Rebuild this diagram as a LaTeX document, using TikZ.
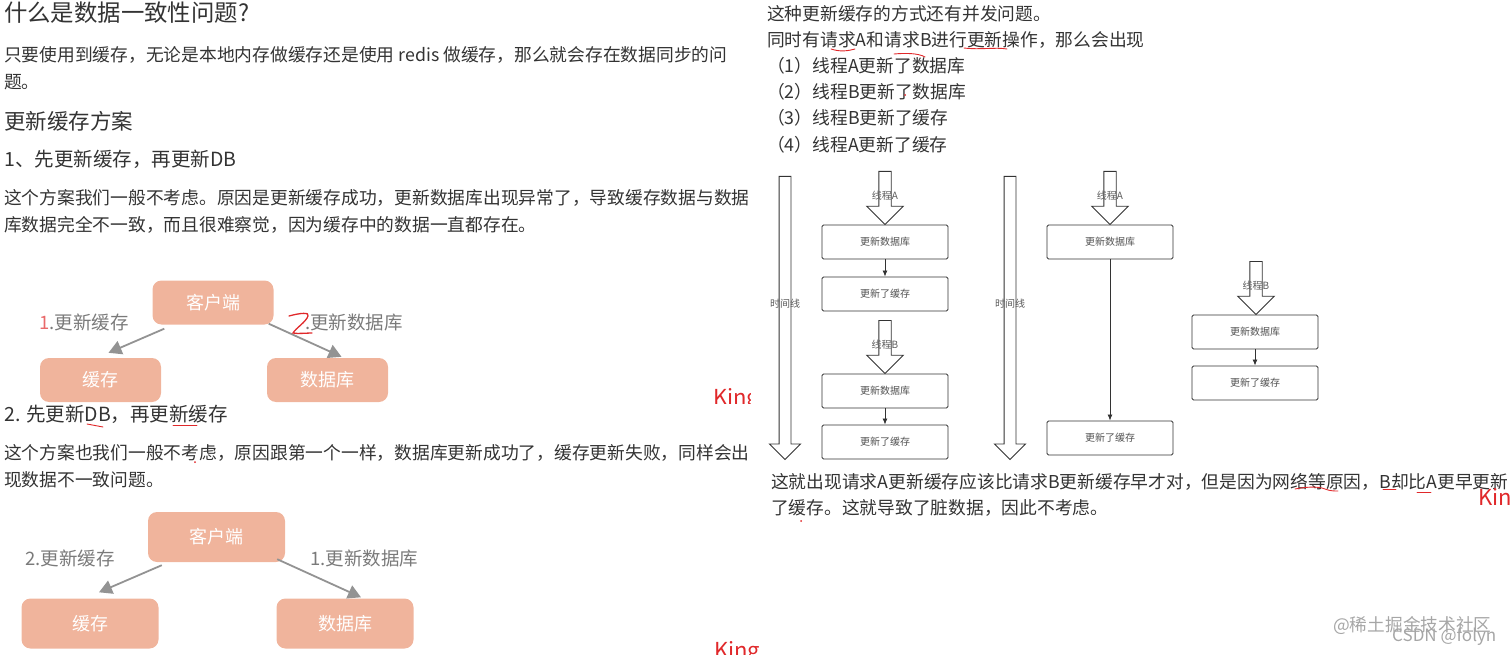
\documentclass[tikz,border=0pt]{standalone}
\usepackage{fontspec}
\setmainfont{Noto Sans CJK SC}
\usepackage{xcolor}
\usetikzlibrary{arrows.meta,calc,shapes.arrows}
\definecolor{salmon}{HTML}{F0B49C}
\definecolor{ink}{HTML}{333333}
\definecolor{handgray}{HTML}{7A7A7A}
\definecolor{inkred}{HTML}{E0282A}

\begin{document}
\begin{tikzpicture}[x=1pt,y=-1pt]
 	  \tikzstyle{para}=[anchor=west, inner sep=0pt, text=ink, font=\fontsize{17.75}{20}\selectfont]
 	  \tikzstyle{orange}=[fill=salmon, rounded corners=9pt, text=white, font=\fontsize{18}{20}\selectfont]
 	  \tikzstyle{hand}=[anchor=west, inner sep=0pt, text=handgray, font=\fontsize{18.5}{20}\selectfont]
 	  \tikzstyle{pointer}=[draw=gray!85, line width=1.8pt, -{Triangle[length=13pt,width=14pt]}]
 	  \tikzstyle{stepbox}=[draw=ink, line width=.9pt, fill=white, rounded corners=1.5pt, minimum width=126pt, minimum height=34pt, inner sep=0pt, text=ink!85, font=\fontsize{10}{12}\selectfont]
 	  \tikzstyle{thread}=[draw=ink, line width=.9pt, fill=white, single arrow, shape border rotate=270, anchor=tail, inner sep=5.75pt, minimum height=53pt, single arrow head extend=12pt, single arrow tip angle=90]
 	  \tikzstyle{timeline}=[draw=ink, line width=.9pt, fill=white, single arrow, shape border rotate=270, anchor=tail, inner sep=5.5pt, minimum height=283pt, single arrow head extend=9.5pt, single arrow tip angle=90]
 	  \tikzstyle{tag}=[inner sep=0pt, text=ink!80, font=\fontsize{10}{12}\selectfont]
 	  \tikzstyle{redline}=[draw=inkred, line width=.9pt, line cap=round]
 	  \tikzstyle{redtext}=[anchor=base west, inner sep=0pt, text=inkred, font=\fontsize{22}{24}\selectfont]
 	  \tikzstyle{water}=[inner sep=0pt, text=gray!70, font=\fontsize{17.7}{20}\selectfont]
\useasboundingbox (0,0) rectangle (1512,655);

% left column
\node[para, font=\fontsize{23.4}{26}\selectfont] (title) at (4,13) {什么是数据一致性问题?};
\node[para, font=\fontsize{21.5}{24}\selectfont] (plan) at (4,121) {更新缓存方案};
\node[para, font=\fontsize{19.5}{22}\selectfont] (first) at (4,159) {1、先更新缓存，再更新DB};
\node[para, font=\fontsize{19.5}{22}\selectfont] (second) at (4,414) {2. 先更新DB，再更新缓存};
\foreach \n/\y/\t in {a/55/只要使用到缓存，无论是本地内存做缓存还是使用 redis 做缓存，那么就会存在数据同步的问,
      b/82/题。,
      c/198/这个方案我们一般不考虑。原因是更新缓存成功，更新数据库出现异常了，导致缓存数据与数据,
      d/225/库数据完全不一致，而且很难察觉，因为缓存中的数据一直都存在。,
      e/453/这个方案也我们一般不考虑，原因跟第一个一样，数据库更新成功了，缓存更新失败，同样会出,
      f/480/现数据不一致问题。}{
    \node[para] (left_\n) at (4,\y) {\t};
      }

% right column
\foreach \n/\x/\y/\t in {a/767/14/这种更新缓存的方式还有并发问题。,
      b/767/40/同时有请求A和请求B进行更新操作，那么会出现,
      c/767/66/（1）线程A更新了数据库,
      d/767/92/（2）线程B更新了数据库,
      e/767/118/（3）线程B更新了缓存,
      f/767/145/（4）线程A更新了缓存,
      g/771/482/这就出现请求A更新缓存应该比请求B更新缓存早才对，但是因为网络等原因，B却比A更早更新,
      h/771/508/了缓存。这就导致了脏数据，因此不考虑。}{
    \node[para] (right_\n) at (\x,\y) {\t};
      }

% first client picture
\node[orange, minimum width=121pt, minimum height=44pt] (client1) at (213,302.5) {客户端};
\node[orange, minimum width=121pt, minimum height=44pt] (cache1) at (100.5,380) {缓存};
\node[orange, minimum width=121pt, minimum height=44pt] (db1) at (327.5,380) {数据库};
\draw[pointer] ([shift={(12,4)}]client1.south west) -- ([shift={(8,-5)}]cache1.north);
\draw[pointer] ([shift={(-5,-1)}]client1.south east) -- ([shift={(14,-1)}]db1.north);
\node[hand] (label_a1) at (39,322) {{\color{inkred!70}1}.更新缓存};
\node[hand] (label_b1) at (305,322) {.更新数据库};

% second client picture
\node[orange, minimum width=137pt, minimum height=50pt] (client2) at (216.5,537) {客户端};
\node[orange, minimum width=137pt, minimum height=50pt] (cache2) at (90,623.5) {缓存};
\node[orange, minimum width=137pt, minimum height=50pt] (db2) at (345,623.5) {数据库};
\draw[pointer] ([shift={(14,3)}]client2.south west) -- ([shift={(9,-6)}]cache2.north);
\draw[pointer] ([shift={(-8,-3)}]client2.south east) -- ([shift={(16,-1)}]db2.north);
\node[hand] (label_a2) at (25,558) {2.更新缓存};
\node[hand] (label_b2) at (310,558) {1.更新数据库};

% time lines
\node[timeline] (time1) at (785,176) {};
\node[timeline] (time2) at (1010,176) {};
\node[tag] (time1_label) at (785,304) {时间线};
\node[tag] (time2_label) at (1010,304) {时间线};

% thread arrows
\node[thread] (threadA) at (885,171) {};
\node[thread] (threadB) at (885,320) {};
\node[thread] (threadA2) at (1110,171) {};
\node[thread] (threadB2) at (1256,261) {};
\node[tag] (threadA_label) at (885,196) {线程A};
\node[tag] (threadB_label) at (885,345) {线程B};
\node[tag] (threadA2_label) at (1110,196) {线程A};
\node[tag] (threadB2_label) at (1256,286) {线程B};

% boxes
\node[stepbox] (db_a) at (885,242) {更新数据库};
\node[stepbox] (cache_a) at (885,294) {更新了缓存};
\node[stepbox] (db_b) at (885,391) {更新数据库};
\node[stepbox] (cache_b) at (885,442) {更新了缓存};
\node[stepbox] (db_c) at (1110,242) {更新数据库};
\node[stepbox] (cache_c) at (1110,438) {更新了缓存};
\node[stepbox] (db_d) at (1255,332) {更新数据库};
\node[stepbox] (cache_d) at (1255,383) {更新了缓存};
\foreach \a/\b in {db_a/cache_a,db_b/cache_b,db_c/cache_c,db_d/cache_d}{
    \draw[draw=ink, line width=.8pt, -{Latex[length=6pt,width=5pt]}] (\a) -- (\b);
      }

% red pen
\draw[redline, line width=1.3pt] (289,316) .. controls (300,313) and (310,312) .. (308,316) .. controls (306,322) and (296,328) .. (293,333) .. controls (298,334) and (306,333) .. (312,333);
\draw[redline] (87,424) -- (103,427);
\draw[redline] (173,425) -- (197,425);
\draw[redline] (831,49) .. controls (840,52) and (848,51) .. (855,49);
\draw[redline] (894,54) .. controls (905,53) and (918,53) .. (925,57);
\draw[redline] (964,48) .. controls (980,50) and (995,47) .. (1007,49);
\draw[redline] (1295,489) .. controls (1305,487) and (1318,486) .. (1325,489) .. controls (1330,491) and (1334,491) .. (1338,491);
\draw[redline] (1383,489) -- (1396,489);
\draw[redline] (1417,492) -- (1431,492);
\foreach \x/\y in {195/462,905/95,801/521}{
    \fill[inkred] (\x,\y) circle (1pt);
      }
\begin{scope}
    \clip (700,380) rectangle (750,403);
    \node[redtext] (king1) at (713,405) {King};
\end{scope}
\node[redtext] (king2) at (714,658) {King};
\begin{scope}
    \clip (1470,480) rectangle (1512,520);
    \node[redtext] (king3) at (1478,505) {King};
\end{scope}

% watermarks
\node[water, anchor=west] (juejin) at (1333,626) {@稀土掘金技术社区};
\node[water, anchor=west, font=\fontsize{17}{18}\selectfont] (csdn) at (1392,637) {CSDN @folyn};
   \end{tikzpicture}
\end{document}
